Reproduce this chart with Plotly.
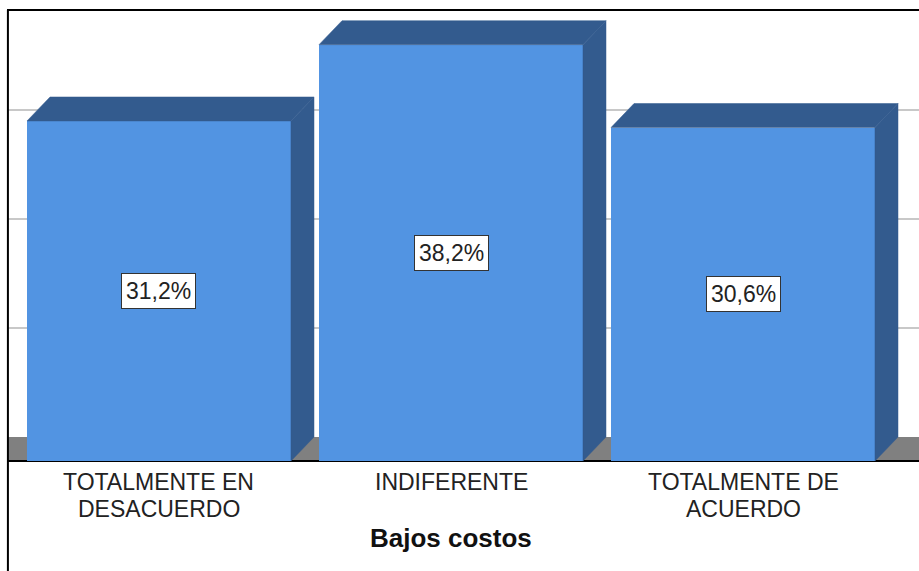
import plotly.graph_objects as go

categories = ["TOTALMENTE EN<br>DESACUERDO", "INDIFERENTE", "TOTALMENTE DE<br>ACUERDO"]
values = [31.2, 38.2, 30.6]
axis_title = "Bajos costos"
grid_values = [10, 20, 30, 40]

# styling / geometry (not data)
FRONT = "rgb(82,148,226)"
DARK = "rgb(51,91,142)"
FLOOR = "rgb(128,128,128)"
BAR_W = 0.904
DX = 0.0788   # depth offset in x units
DY = 2.2      # depth offset in y units
X_RANGE = [-0.5205, 2.6027]
Y_RANGE = [-10.09, 41.38]
FONT = "Liberation Sans, Arial, sans-serif"
LINE_Y = [0.1595, 0.1114]

xs = list(range(len(values)))

fig = go.Figure()

# front faces
fig.add_trace(go.Bar(x=xs, y=values, width=BAR_W, marker=dict(color=FRONT, line=dict(width=0)),
                     hoverinfo="skip", showlegend=False))

# top and side faces derived from the values
top_x, top_y, side_x, side_y = [], [], [], []
for x, v in zip(xs, values):
    l, r = x - BAR_W / 2, x + BAR_W / 2
    top_x += [l, r, r + DX, l + DX, l, None]
    top_y += [v, v, v + DY, v + DY, v, None]
    side_x += [r, r + DX, r + DX, r, r, None]
    side_y += [0, DY, v + DY, v, 0, None]
for px, py in ((side_x, side_y), (top_x, top_y)):
    fig.add_trace(go.Scatter(x=px, y=py, mode="lines", fill="toself", fillcolor=DARK,
                             line=dict(color=DARK, width=0.5), hoverinfo="skip", showlegend=False))

shapes = [
    # floor band
    dict(type="rect", xref="paper", yref="y", x0=0, x1=1, y0=0, y1=DY,
         fillcolor=FLOOR, line=dict(width=0), layer="below"),
    dict(type="line", xref="paper", yref="y", x0=0, x1=1, y0=0, y1=0,
         line=dict(color="black", width=2), layer="below"),
    # frame
    dict(type="line", xref="paper", yref="paper", x0=0, x1=1, y0=1, y1=1,
         line=dict(color="black", width=2)),
    dict(type="line", xref="paper", yref="paper", x0=0.001, x1=0.001, y0=0, y1=1,
         line=dict(color="black", width=2)),
]

annotations = []
for x, v in zip(xs, values):
    annotations.append(dict(x=x, y=v / 2, xref="x", yref="y", showarrow=False,
                            text=f"{v:.1f}%".replace(".", ","),
                            font=dict(family=FONT, size=23, color="#222"),
                            bgcolor="white", bordercolor="#333", borderwidth=1, borderpad=4))
for x, c in zip(xs, categories):
    for line, ly in zip(c.split("<br>"), LINE_Y):
        annotations.append(dict(x=x, y=ly, xref="x", yref="paper", yanchor="middle",
                                showarrow=False, text=line,
                                font=dict(family=FONT, size=23, color="#222")))
annotations.append(dict(x=1, y=0.0285, xref="x", yref="paper", showarrow=False,
                        text=f"<b>{axis_title}</b>",
                        font=dict(family=FONT, size=26, color="#111")))

fig.update_layout(
    width=919, height=571,
    margin=dict(l=7, r=0, t=10, b=0),
    paper_bgcolor="white", plot_bgcolor="white",
    bargap=0,
    xaxis=dict(range=X_RANGE, showgrid=False, zeroline=False, showticklabels=False, ticks=""),
    yaxis=dict(range=Y_RANGE, tickvals=[g + DY for g in grid_values], showticklabels=False,
               ticks="", gridcolor="rgb(200,200,200)", gridwidth=1.5, zeroline=False),
    shapes=shapes,
    annotations=annotations,
    showlegend=False,
)

fig.write_html(
    "out.html",
    config={"displayModeBar": False},
    post_script="document.body.style.margin='0';document.body.style.overflow='hidden';",
)
